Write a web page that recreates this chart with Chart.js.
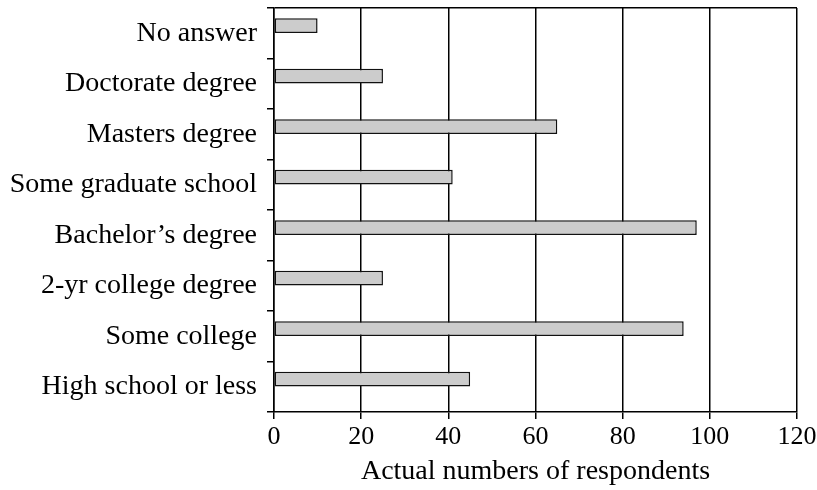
<!DOCTYPE html>
<html>
<head>
<meta charset="utf-8">
<script src="https://cdn.jsdelivr.net/npm/chart.js@4.4.1/dist/chart.umd.min.js"></script>
<style>
  html, body { margin: 0; padding: 0; background: #fff; }
  #wrap { width: 817px; height: 490px; }
</style>
</head>
<body>
<div id="wrap"><canvas id="chart"></canvas></div>
<script>
// education levels, top to bottom
const categories = [
    'No answer',
    'Doctorate degree',
    'Masters degree',
    'Some graduate school',
    'Bachelor\u2019s degree',
    '2-yr college degree',
    'Some college',
    'High school or less'
];
const respondents = [10, 25, 65, 41, 97, 25, 94, 45];
const xTicks = [0, 20, 40, 60, 80, 100, 120];
const xTitle = 'Actual numbers of respondents';

const FONT = '"Liberation Serif", "Times New Roman", serif';

document.addEventListener('DOMContentLoaded', () => {
    const ctx = document.getElementById('chart').getContext('2d');

    new Chart(ctx, {
        type: 'bar',
        data: {
            labels: categories,
            datasets: [
                {
                    data: respondents,
                    backgroundColor: '#cccccc',
                    borderColor: '#111',
                    borderWidth: 1.5,
                    borderSkipped: false
                },
                // empty slot so the bars sit a bit above the label centre, as in the original
                { data: [] }
            ]
        },
        options: {
            indexAxis: 'y',
            responsive: true,
            maintainAspectRatio: false,
            animation: false,
            devicePixelRatio: 1,
            categoryPercentage: 0.6,
            barPercentage: 0.97,
            layout: { padding: { top: 8, right: 20, left: 0, bottom: 0 } },
            plugins: {
                legend: { display: false },
                tooltip: { enabled: false }
            },
            scales: {
                x: {
                    min: xTicks[0],
                    max: xTicks[xTicks.length - 1],
                    afterBuildTicks: scale => {
                        scale.ticks = xTicks.map(v => ({ value: v }));
                    },
                    afterFit: scale => {
                        scale.height = 78;
                        scale.paddingLeft = 0;
                        scale.paddingRight = 0;
                    },
                    grid: {
                        color: '#000',
                        lineWidth: 1.5,
                        tickLength: 7,
                        tickColor: '#000'
                    },
                    border: { color: '#000', width: 1.5 },
                    ticks: {
                        color: '#000',
                        padding: 3,
                        font: { family: FONT, size: 26 }
                    },
                    title: {
                        display: true,
                        text: xTitle,
                        color: '#000',
                        padding: { top: 0, bottom: 2 },
                        font: { family: FONT, size: 28 }
                    }
                },
                y: {
                    afterFit: scale => {
                        scale.width = 274;
                        scale.paddingTop = 0;
                        scale.paddingBottom = 0;
                    },
                    grid: {
                        offset: true,
                        // only the top edge is drawn across the plot
                        color: c => (c.index === 0 ? '#000' : 'rgba(0,0,0,0)'),
                        lineWidth: 1.5,
                        tickLength: 7,
                        tickColor: '#000'
                    },
                    border: { color: '#000', width: 1.5 },
                    ticks: {
                        color: '#000',
                        padding: 10,
                        font: { family: FONT, size: 28 }
                    }
                }
            }
        }
    });
});
</script>
</body>
</html>
